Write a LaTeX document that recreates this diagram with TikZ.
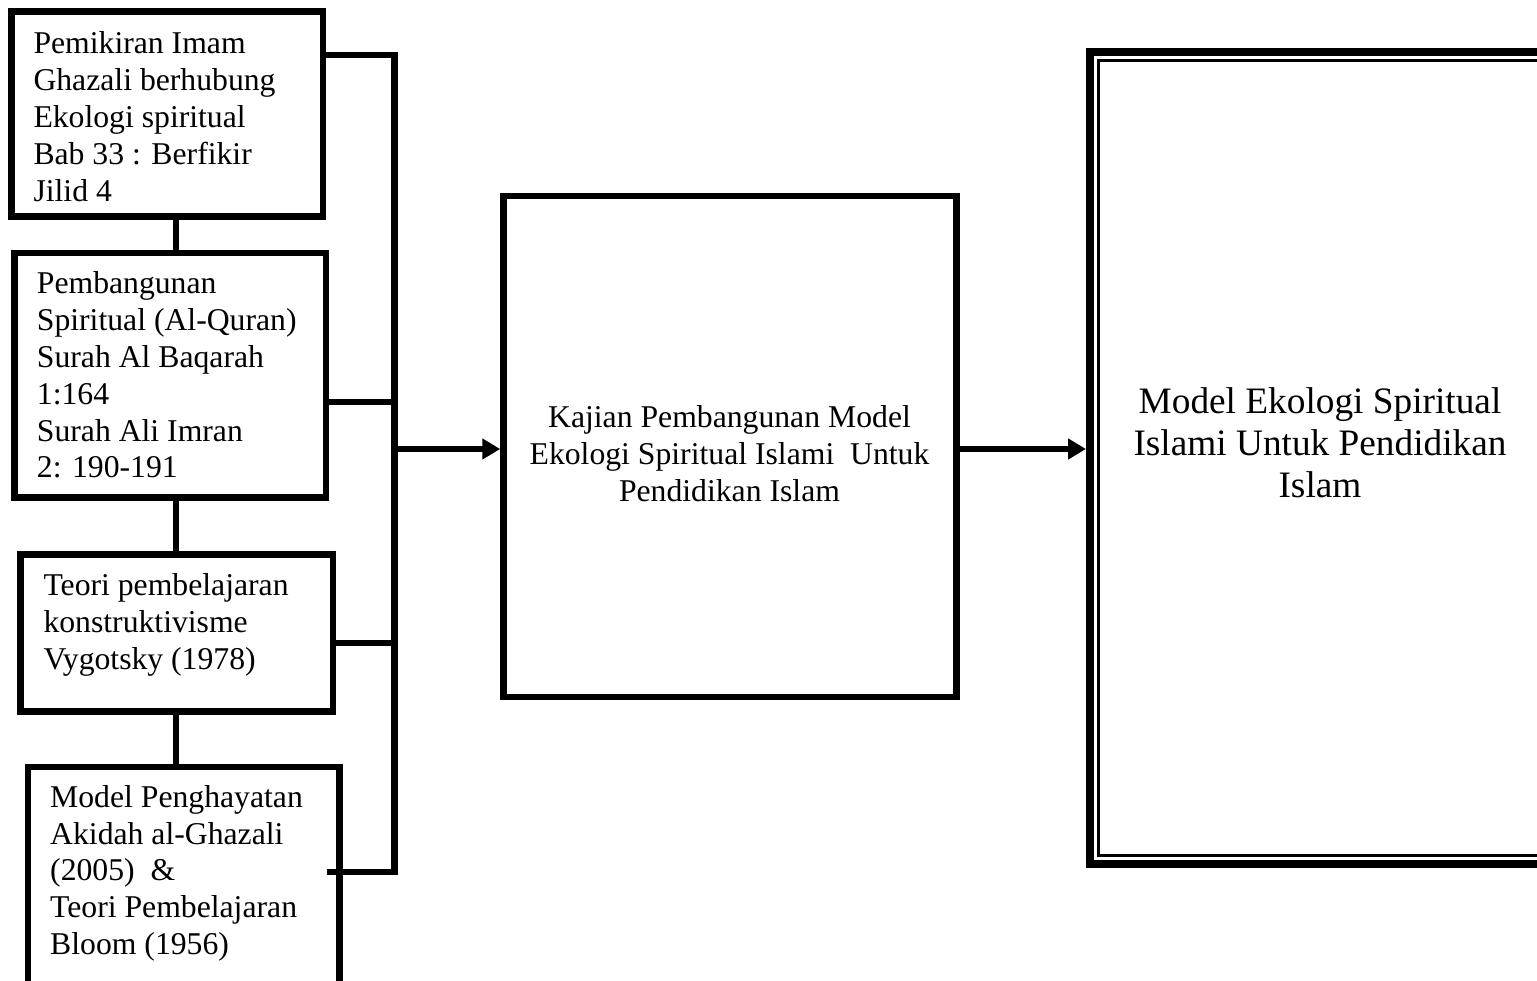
\documentclass[tikz,border=0pt]{standalone}
\usepackage{fontspec}
\setmainfont{Liberation Serif}
\usetikzlibrary{arrows.meta}

\tikzset{
    kotak/.style={draw, line width=6.5pt, inner sep=0pt},
    teks/.style={inner sep=0pt, anchor=north west, align=left, font=\fontsize{31.7}{36.8}\selectfont},
    tekstengah/.style={inner sep=0pt, anchor=north, align=center, font=\fontsize{31.7}{37.3}\selectfont},
    teksbesar/.style={inner sep=0pt, anchor=north, align=center, font=\fontsize{37.3}{42}\selectfont},
    garis/.style={line width=6.5pt},
    panah/.style={line width=6.5pt, -{Triangle[length=18pt,width=20pt]}},
}

\begin{document}
\begin{tikzpicture}[x=1pt,y=-1pt]
    \useasboundingbox (0,0) rectangle (1537,981);

    % kotak kiri
    \node[kotak, minimum width=311.3pt, minimum height=205.2pt] (pemikiran) at (167.3,114.1) {};
    \node[kotak, minimum width=311.5pt, minimum height=244.5pt] (pembangunan) at (170.25,375.25) {};
    \node[kotak, minimum width=312.7pt, minimum height=157pt] (konstruktivisme) at (176.65,633.2) {};
    \node[kotak, minimum width=311.5pt, minimum height=218pt] (penghayatan) at (183.75,876) {};

    \node[teks] (tpemikiran) at (33.3,31.8) {Pemikiran Imam\\Ghazali berhubung\\Ekologi spiritual\\Bab 33 : Berfikir\\Jilid 4};
    \node[teks] (tpembangunan) at (36.7,271.8) {Pembangunan\\Spiritual (Al-Quran)\\Surah Al Baqarah\\1:164\\Surah Ali Imran\\2: 190-191};
    \node[teks] (tkonstruktivisme) at (43.3,573.5) {Teori pembelajaran\\konstruktivisme\\Vygotsky (1978)};
    \node[teks] (tpenghayatan) at (50,785) {Model Penghayatan\\Akidah al-Ghazali\\(2005)\ \ \&\\Teori Pembelajaran\\Bloom (1956)};

    % kotak tengah dan kanan
    \node[kotak, minimum width=453pt, minimum height=501pt] (kajian) at (730,446.5) {};
    \node[tekstengah] (tkajian) at (729.5,405) {Kajian Pembangunan Model\\Ekologi Spiritual Islami\ \ Untuk\\Pendidikan Islam};

    \node[draw, line width=8pt, inner sep=0pt, minimum width=530pt, minimum height=812pt] (ekologi) at (1355,458) {};
    \draw[line width=2.5pt] ([shift={(12.5,12.5)}]ekologi.north west) rectangle ([shift={(-12.5,-12.5)}]ekologi.south east);
    \node[teksbesar] (tekologi) at (1320,387.5) {Model Ekologi Spiritual\\Islami Untuk Pendidikan\\Islam};

    % garis penyambung
    \coordinate (paksi) at (176,0);
    \coordinate (bus1) at (394.5,55);
    \coordinate (bus2) at (394.5,402);
    \coordinate (bus3) at (394.5,643);
    \coordinate (bus4) at (394.5,872);
    \coordinate (busmid) at (394.5,449);

    \draw[garis] (pemikiran.south -| paksi) -- (pembangunan.north -| paksi);
    \draw[garis] (pembangunan.south -| paksi) -- (konstruktivisme.north -| paksi);
    \draw[garis] (konstruktivisme.south -| paksi) -- (penghayatan.north -| paksi);

    \draw[garis] (pemikiran.east |- bus1) -- (bus1) -- (bus4) -- ([xshift=-16pt]penghayatan.east |- bus4);
    \draw[garis] (pembangunan.east |- bus2) -- (bus2);
    \draw[garis] ([xshift=-6pt]konstruktivisme.east |- bus3) -- (bus3);

    % anak panah
    \draw[panah] (busmid) -- (kajian.west |- busmid);
    \draw[panah] (kajian.east |- busmid) -- (ekologi.west |- busmid);
\end{tikzpicture}
\end{document}
